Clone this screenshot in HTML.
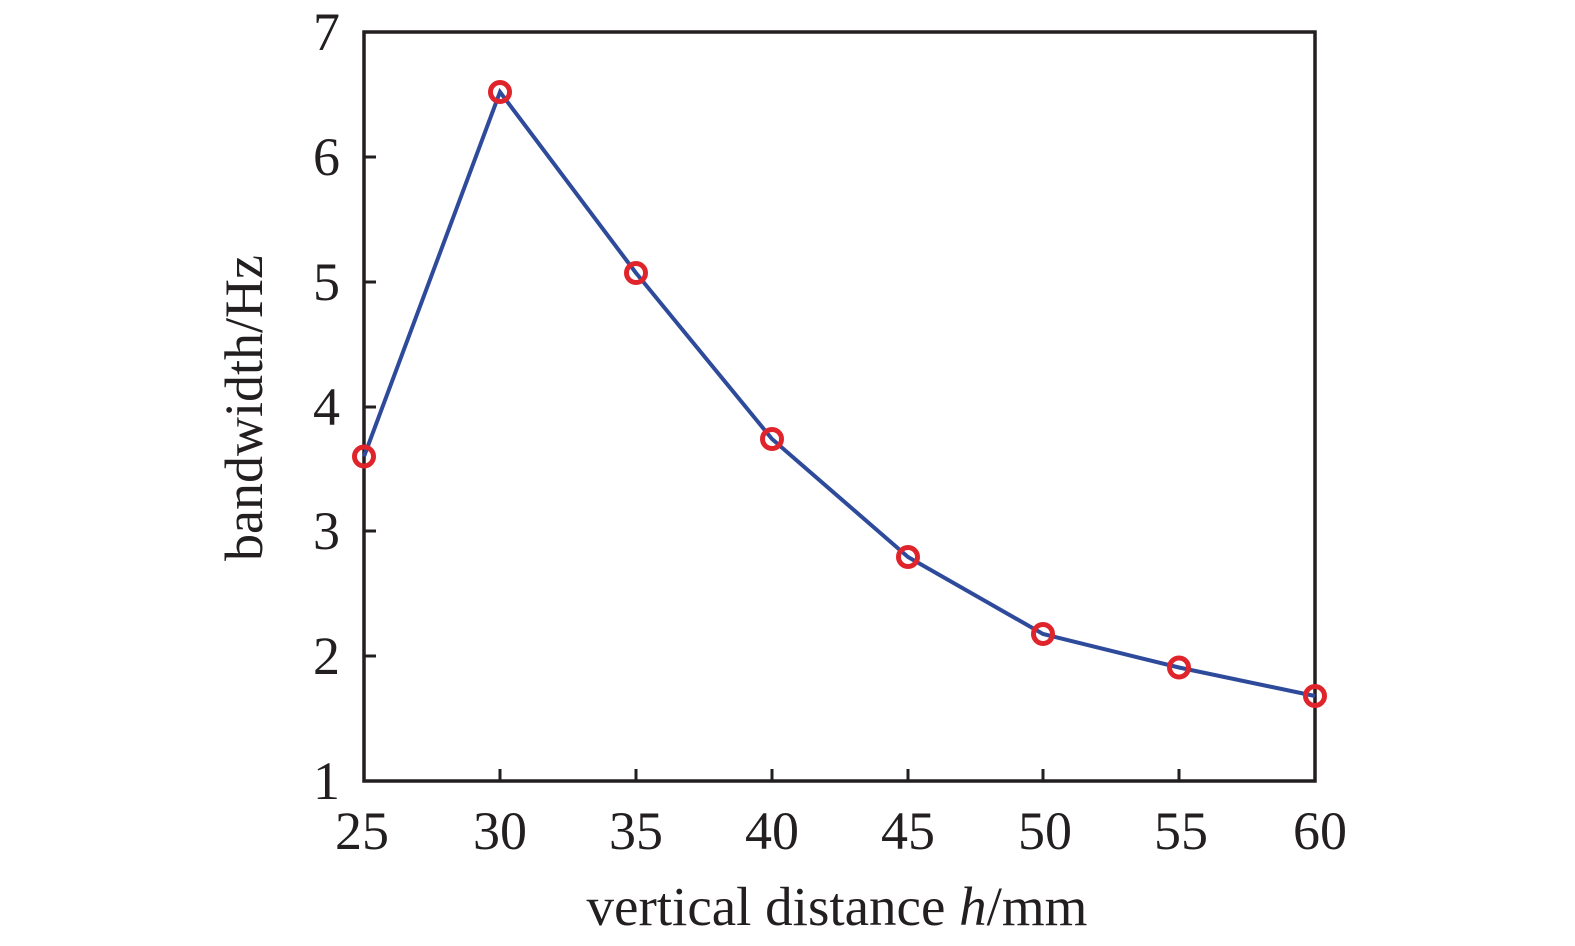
<!DOCTYPE html>
<html><head><style>
html,body{margin:0;padding:0;background:#fff;}
svg{display:block;}
text{font-family:"Liberation Serif",serif;fill:#231f20;}
</style></head><body>
<svg width="1575" height="946" viewBox="0 0 1575 946" xmlns="http://www.w3.org/2000/svg">
<rect x="364" y="32" width="951" height="749" fill="none" stroke="#231f20" stroke-width="3.5"/>
<g stroke="#231f20" stroke-width="3">
<line x1="500" y1="781" x2="500" y2="769"/><line x1="636" y1="781" x2="636" y2="769"/>
<line x1="772" y1="781" x2="772" y2="769"/><line x1="908" y1="781" x2="908" y2="769"/>
<line x1="1043" y1="781" x2="1043" y2="769"/><line x1="1179" y1="781" x2="1179" y2="769"/>
<line x1="364" y1="656" x2="376" y2="656"/><line x1="364" y1="531" x2="376" y2="531"/>
<line x1="364" y1="407" x2="376" y2="407"/><line x1="364" y1="282" x2="376" y2="282"/>
<line x1="364" y1="157" x2="376" y2="157"/>
</g>
<g font-size="54" text-anchor="middle">
<text x="362" y="849">25</text><text x="500" y="849">30</text><text x="636" y="849">35</text>
<text x="772" y="849">40</text><text x="908" y="849">45</text><text x="1045" y="849">50</text>
<text x="1181" y="849">55</text><text x="1320" y="849">60</text>
</g>
<g font-size="54" text-anchor="end">
<text x="340" y="50">7</text><text x="340" y="175">6</text><text x="340" y="300">5</text>
<text x="340" y="425">4</text><text x="340" y="549">3</text><text x="340" y="674">2</text>
<text x="340" y="799">1</text>
</g>
<text x="837" y="925" font-size="55" text-anchor="middle">vertical distance <tspan font-style="italic">h</tspan>/mm</text>
<text transform="translate(262,408) rotate(-90)" font-size="54" text-anchor="middle">bandwidth/Hz</text>
<polyline fill="none" stroke="#2e4a9a" stroke-width="4" points="364,456.5 500,92 636,273 772,439 908,557 1043,634 1179,667.5 1315,696"/>
<g fill="none" stroke="#e0242b" stroke-width="5">
<circle cx="364" cy="456.5" r="9.5"/><circle cx="500" cy="92" r="9.5"/><circle cx="636" cy="273" r="9.5"/>
<circle cx="772" cy="439" r="9.5"/><circle cx="908" cy="557" r="9.5"/><circle cx="1043" cy="634" r="9.5"/>
<circle cx="1179" cy="667.5" r="9.5"/><circle cx="1315" cy="696" r="9.5"/>
</g>
</svg>
</body></html>
